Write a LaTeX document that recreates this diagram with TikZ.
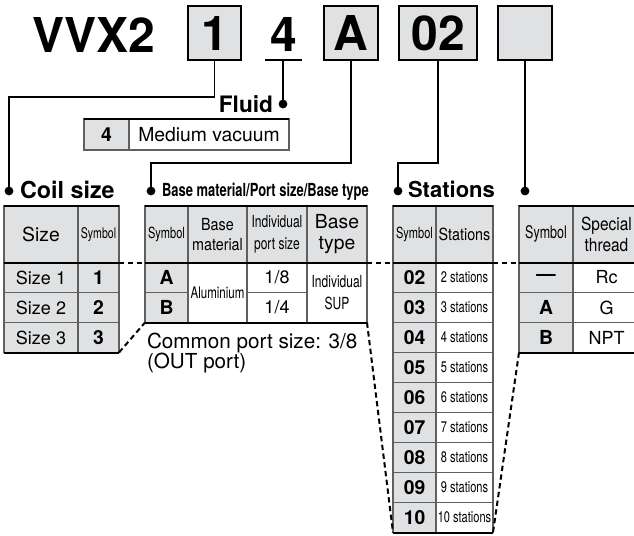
\documentclass[tikz,border=0pt]{standalone}
\usepackage{fontspec}
\setmainfont{TeX Gyre Heros}
\newfontfamily\condA[FakeStretch=0.72]{TeX Gyre Heros}
\newfontfamily\condB[FakeStretch=0.86]{TeX Gyre Heros}
\newcommand{\fsz}[2]{\fontsize{#1}{#2}\selectfont}
\definecolor{cellgray}{RGB}{224,225,227}
\definecolor{linegray}{RGB}{95,95,95}
\newcommand{\tcell}[7]{\node[cellbase,#6,minimum width={((#4)-(#2))*0.75pt},minimum height={((#5)-(#3))*0.75pt}] (#1) at ({((#2)+(#4))/2},{((#3)+(#5))/2}) {#7};}
\tikzset{
  every node/.style={inner sep=0pt, outer sep=0pt},
  cellbase/.style={draw=linegray, line width=0.8pt, align=center, anchor=center, font=\fsz{13.5}{16}},
  hd/.style={fill=cellgray},
  symc/.style={fill=cellgray, font=\bfseries\fsz{14.5}{16}},
  valc/.style={fill=white},
  codebox/.style={fill=cellgray, draw=black, line width=1.3pt, font=\bfseries\fsz{36}{40}},
  rule/.style={draw=black, line width=1.5pt},
  leader/.style={draw=black, line width=1.3pt},
  dashline/.style={draw=black, line width=1.5pt, dash pattern=on 4pt off 2.6pt},
  dotmark/.style={fill=black},
}
\begin{document}
\begin{tikzpicture}[x=0.75pt,y=-0.75pt]
\useasboundingbox (0,0) rectangle (634,535);
\fill[white] (0,0) rectangle (634,535);

% ---- code line ----
\node[font=\bfseries\fsz{36}{40}, anchor=base] (title) at (93.5,52.5) {VVX2};
\tcell{codeOne}{188}{6}{241}{60}{codebox}{1}
\node[font=\bfseries\fsz{36}{40}] (codeFour) at (283.5,34) {4};
\coordinate (ulL) at (265,60);
\coordinate (ulR) at (302,60);
\coordinate (ulM) at (283,60);
\draw[leader] (ulL) -- (ulR);
\tcell{codeA}{324}{6}{378}{60}{codebox}{A}
\tcell{codeSt}{399}{6}{477}{60}{codebox}{02}
\tcell{codeTh}{498}{6}{552}{60}{codebox}{}

% ---- leader coordinates ----
\coordinate (k1) at (9,97);
\coordinate (coildot) at (9,191);
\coordinate (fluiddot) at (283,104);
\coordinate (k2) at (151,163);
\coordinate (basedot) at (151,191);
\coordinate (k3) at (398,163);
\coordinate (stdot) at (398,191);
\coordinate (thdot) at (525,191);

\draw[leader] (codeOne.south) |- (k1) -- (coildot);
\draw[leader] (ulM) -- (fluiddot);
\draw[leader] (codeA.south) |- (k2) -- (basedot);
\draw[leader] (codeSt.south) |- (k3) -- (stdot);
\draw[leader] (codeTh.south) -- (thdot);
\foreach \d in {coildot,fluiddot,basedot,stdot,thdot}{\fill[dotmark] (\d) circle[radius=3.3pt];}

% ---- labels ----
\node[anchor=base east, font=\bfseries\fsz{17}{19}] (fluidLbl) at (273,112) {Fluid};
\node[anchor=base west, font=\bfseries\fsz{17.5}{19}] (coilLbl) at (20,198) {Coil size};
\node[anchor=base west, font=\condA\bfseries\fsz{13.5}{15}] (baseLbl) at (162,196) {Base material/Port size/Base type};
\node[anchor=base west, font=\bfseries\fsz{16.5}{18}] (stLbl) at (408,197) {Stations};

% ---- fluid table ----
\tcell{fK}{84}{119}{129}{150}{symc}{4}
\tcell{fV}{129}{119}{289}{150}{valc,font=\fsz{14.5}{16}}{Medium vacuum}
\draw[rule] (fK.north west) -- (fV.north east);

% ---- coil size table ----
\tcell{cH1}{4}{206}{78}{262.5}{hd,font=\fsz{14.5}{16}}{Size}
\tcell{cH2}{78}{206}{119}{262.5}{hd,font=\condA\fsz{11}{13}}{Symbol}
\tcell{cS1}{4}{262.5}{78}{292.5}{hd}{Size 1}
\tcell{cY1}{78}{262.5}{119}{292.5}{symc}{1}
\tcell{cS2}{4}{292.5}{78}{322.5}{hd}{Size 2}
\tcell{cY2}{78}{292.5}{119}{322.5}{symc}{2}
\tcell{cS3}{4}{322.5}{78}{352.5}{hd}{Size 3}
\tcell{cY3}{78}{322.5}{119}{352.5}{symc}{3}
\draw[rule] (cH1.north west) -- (cH2.north east);
\draw[rule] (cH1.south west) -- (cH2.south east);
\draw[rule] (cS3.south west) -- (cY3.south east);

% ---- base table ----
\tcell{bH1}{145}{206}{188}{262.5}{hd,font=\condA\fsz{11.5}{13}}{Symbol}
\tcell{bH2}{188}{206}{247}{262.5}{hd,font=\condB\fsz{12.5}{15}}{Base\\material}
\tcell{bH3}{247}{206}{307}{262.5}{hd,font=\condA\fsz{12.5}{16}}{Individual\\port size}
\tcell{bH4}{307}{206}{367}{262.5}{hd,font=\fsz{14.5}{15.5}}{Base\\type}
\tcell{bSa}{145}{262.5}{188}{292.5}{symc}{A}
\tcell{bSb}{145}{292.5}{188}{322.5}{symc}{B}
\tcell{bAl}{188}{262.5}{247}{322.5}{valc,font=\condA\fsz{12}{14}}{Aluminium}
\tcell{bP1}{247}{262.5}{307}{292.5}{valc}{1/8}
\tcell{bP2}{247}{292.5}{307}{322.5}{valc}{1/4}
\tcell{bT}{307}{262.5}{367}{322.5}{valc,font=\condA\fsz{12.5}{16.5}}{Individual\\SUP}
\draw[rule] (bH1.north west) -- (bH4.north east);
\draw[rule] (bH1.south west) -- (bH4.south east);
\draw[rule] (bSb.south west) -- (bT.south east);
\node[anchor=base west, font=\fsz{15.5}{18}] (common1) at (147,348) {Common port size: 3/8};
\node[anchor=base west, font=\fsz{15.5}{18}] (common2) at (147,368) {(OUT port)};

% ---- stations table ----
\tcell{sH1}{393}{206}{436}{262.5}{hd,font=\condA\fsz{11.5}{13}}{Symbol}
\tcell{sH2}{436}{206}{493}{262.5}{hd,font=\condB\fsz{12.5}{15}}{Stations}
\foreach \n/\lab [count=\i from 0] in {02/2,03/3,04/4,05/5,06/6,07/7,08/8,09/9,10/10}{
  \tcell{sY\i}{393}{262.5+30*\i}{436}{292.5+30*\i}{symc}{\n}
  \tcell{sN\i}{436}{262.5+30*\i}{493}{292.5+30*\i}{valc,font=\condA\fsz{11.5}{13}}{\lab\ stations}
}
\draw[rule] (sH1.north west) -- (sH2.north east);
\draw[rule] (sH1.south west) -- (sH2.south east);
\draw[rule] (sY8.south west) -- (sN8.south east);

% ---- thread table ----
\tcell{tH1}{519}{206}{573}{262.5}{hd,font=\condA\fsz{13}{15}}{Symbol}
\tcell{tH2}{573}{206}{640}{262.5}{hd,font=\condB\fsz{13.5}{15.5}}{Special\\thread}
\tcell{tS1}{519}{262.5}{573}{292.5}{symc}{\textemdash}
\tcell{tV1}{573}{262.5}{640}{292.5}{valc}{Rc}
\tcell{tS2}{519}{292.5}{573}{322.5}{symc}{A}
\tcell{tV2}{573}{292.5}{640}{322.5}{valc}{G}
\tcell{tS3}{519}{322.5}{573}{352.5}{symc}{B}
\tcell{tV3}{573}{322.5}{640}{352.5}{valc}{NPT}
\draw[rule] (tH1.north west) -- (tH2.north east);
\draw[rule] (tH1.south west) -- (tH2.south east);
\draw[rule] (tS3.south west) -- (tV3.south east);

% ---- dashed links ----
\draw[dashline] (cH2.south east) -- (bH1.south west);
\draw[dashline] (bH4.south east) -- (sH1.south west);
\draw[dashline] (sH2.south east) -- (tH1.south west);
\draw[dashline] (cY3.south east) -- (bSb.south west);
\draw[dashline] (bT.south east) -- (sY8.south west);
\draw[dashline] (tS3.south west) -- (sN8.south east);
\end{tikzpicture}
\end{document}
